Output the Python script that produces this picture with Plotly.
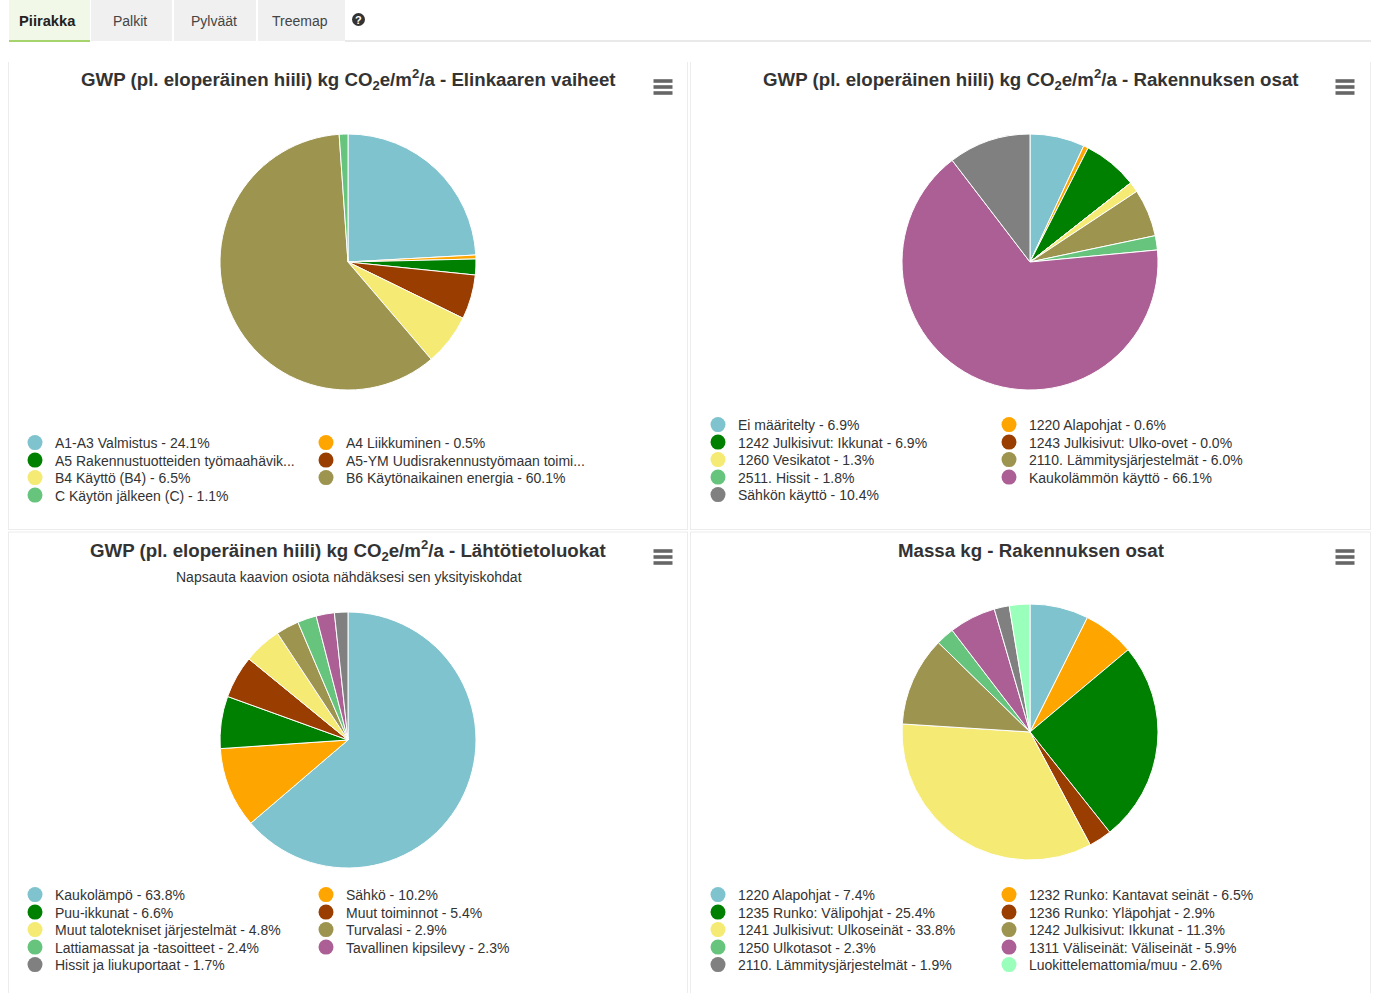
import plotly.graph_objects as go

W, H = 1376, 993
BLUE, ORANGE, GREEN, BROWN, YELLOW = "#7fc3ce", "#ffa500", "#008000", "#993d00", "#f5ea73"
OLIVE, MID, PURPLE, GRAY, MINT = "#9d9450", "#66c47c", "#ab5f95", "#808080", "#99ffbb"
PALETTE = [BLUE, ORANGE, GREEN, BROWN, YELLOW, OLIVE, MID, PURPLE, GRAY, MINT]

TITLE_BASE = "GWP (pl. eloperäinen hiili) kg CO<sub>2</sub>e/m<sup>2</sup>/a - "
title_a = "<b>" + TITLE_BASE + "Elinkaaren vaiheet</b>"
title_b = "<b>" + TITLE_BASE + "Rakennuksen osat</b>"
title_c = "<b>" + TITLE_BASE + "Lähtötietoluokat</b>"
title_d = "<b>Massa kg - Rakennuksen osat</b>"
subtitle_c = "Napsauta kaavion osiota nähdäksesi sen yksityiskohdat"

values_a = [24.1, 0.5, 2.0, 5.6, 6.5, 60.1, 1.1]
labels_a = ["A1-A3 Valmistus - 24.1%", "A4 Liikkuminen - 0.5%",
            "A5 Rakennustuotteiden työmaahävik...", "A5-YM Uudisrakennustyömaan toimi...",
            "B4 Käyttö (B4) - 6.5%", "B6 Käytönaikainen energia - 60.1%",
            "C Käytön jälkeen (C) - 1.1%"]
colors_a = [BLUE, ORANGE, GREEN, BROWN, YELLOW, OLIVE, MID]

values_b = [6.9, 0.6, 6.9, 0.0, 1.3, 6.0, 1.8, 66.1, 10.4]
labels_b = ["Ei määritelty - 6.9%", "1220 Alapohjat - 0.6%",
            "1242 Julkisivut: Ikkunat - 6.9%", "1243 Julkisivut: Ulko-ovet - 0.0%",
            "1260 Vesikatot - 1.3%", "2110. Lämmitysjärjestelmät - 6.0%",
            "2511. Hissit - 1.8%", "Kaukolämmön käyttö - 66.1%",
            "Sähkön käyttö - 10.4%"]
colors_b = [BLUE, ORANGE, GREEN, BROWN, YELLOW, OLIVE, MID, PURPLE, GRAY]

values_c = [63.8, 10.2, 6.6, 5.4, 4.8, 2.9, 2.4, 2.3, 1.7]
labels_c = ["Kaukolämpö - 63.8%", "Sähkö - 10.2%", "Puu-ikkunat - 6.6%",
            "Muut toiminnot - 5.4%", "Muut talotekniset järjestelmät - 4.8%",
            "Turvalasi - 2.9%", "Lattiamassat ja -tasoitteet - 2.4%",
            "Tavallinen kipsilevy - 2.3%", "Hissit ja liukuportaat - 1.7%"]
colors_c = [BLUE, ORANGE, GREEN, BROWN, YELLOW, OLIVE, MID, PURPLE, GRAY]

values_d = [7.4, 6.5, 25.4, 2.9, 33.8, 11.3, 2.3, 5.9, 1.9, 2.6]
labels_d = ["1220 Alapohjat - 7.4%", "1232 Runko: Kantavat seinät - 6.5%",
            "1235 Runko: Välipohjat - 25.4%", "1236 Runko: Yläpohjat - 2.9%",
            "1241 Julkisivut: Ulkoseinät - 33.8%", "1242 Julkisivut: Ikkunat - 11.3%",
            "1250 Ulkotasot - 2.3%", "1311 Väliseinät: Väliseinät - 5.9%",
            "2110. Lämmitysjärjestelmät - 1.9%", "Luokittelemattomia/muu - 2.6%"]
colors_d = PALETTE

tab_names = ["Piirakka", "Palkit", "Pylväät", "Treemap"]

FONT = "Liberation Sans, Arial, sans-serif"
TEXT = "#333333"

def px(x):
    return x / W

def py(y):
    return 1 - y / H

charts = [
    dict(v=values_a, l=labels_a, c=colors_a, cx=348, cy=262, r=128, lx=15, ly=443, tx=348, ty=80, t=title_a, mx=663, my=87),
    dict(v=values_b, l=labels_b, c=colors_b, cx=1030, cy=262, r=128, lx=698, ly=425, tx=1031, ty=80, t=title_b, mx=1345, my=87),
    dict(v=values_c, l=labels_c, c=colors_c, cx=348, cy=740, r=128, lx=15, ly=895, tx=348, ty=550, t=title_c, mx=663, my=557),
    dict(v=values_d, l=labels_d, c=colors_d, cx=1030, cy=732, r=128, lx=698, ly=895, tx=1031, ty=550, t=title_d, mx=1345, my=557),
]
COL_STEP = 291
ROW_STEP = 17.5

fig = go.Figure()
layout_legends = {}
annotations = []
shapes = []

def rect(x0, y0, x1, y1, fill, line=None):
    shapes.append(dict(type="rect", xref="paper", yref="paper", x0=px(x0), x1=px(x1),
                       y0=py(y0), y1=py(y1), fillcolor=fill, line=dict(width=0), layer="below"))

def hline(x0, x1, y, color, width=1):
    shapes.append(dict(type="line", xref="paper", yref="paper", x0=px(x0), x1=px(x1),
                       y0=py(y), y1=py(y), line=dict(color=color, width=width), layer="below"))

def vline(x, y0, y1, color, width=1):
    shapes.append(dict(type="line", xref="paper", yref="paper", x0=px(x), x1=px(x),
                       y0=py(y0), y1=py(y1), line=dict(color=color, width=width), layer="below"))

# tabs
tab_x = [(9, 90), (91, 172), (174, 256), (258, 345)]
for i, (name, (a, b)) in enumerate(zip(tab_names, tab_x)):
    rect(a, 0, b, 41, "#f2f8e8" if i == 0 else "#f0f0f0")
    annotations.append(dict(x=px((a + b) / 2 + (-2 if i == 0 else -1.5)), y=py(20.5), xref="paper", yref="paper",
                            text=f"<b>{name}</b>" if i == 0 else name, showarrow=False,
                            font=dict(family=FONT, size=14.7 if i == 0 else 14, color="#222222" if i == 0 else "#444444"),
                            xanchor="center", yanchor="middle"))
hline(9, 90, 41, "#a6d46c", 2)
hline(345, 1371, 41, "#e2e2e2", 1.5)
shapes.append(dict(type="circle", xref="paper", yref="paper", x0=px(352), x1=px(365), y0=py(13), y1=py(26),
                   fillcolor="#333333", line=dict(width=0)))
annotations.append(dict(x=px(358.5), y=py(19.5), xref="paper", yref="paper", text="<b>?</b>", showarrow=False,
                        font=dict(family=FONT, size=11, color="white"), xanchor="center", yanchor="middle"))

# panel borders
for x in (8.5, 687.5, 690.5, 1370.5):
    vline(x, 62, 529, "#ececec")
    vline(x, 532, 993, "#ececec")
for a, b in ((8, 688), (690, 1371)):
    hline(a, b, 529.5, "#ececec")
    hline(a, b, 532, "#ececec")

n = 0
for ch in charts:
    fig.add_trace(go.Pie(values=ch["v"], labels=ch["l"], sort=False, direction="clockwise", rotation=0,
                         marker=dict(colors=ch["c"], line=dict(color="white", width=1)),
                         textinfo="none", hoverinfo="label", showlegend=False,
                         domain=dict(x=[px(ch["cx"] - ch["r"]), px(ch["cx"] + ch["r"])],
                                     y=[py(ch["cy"] + ch["r"]), py(ch["cy"] - ch["r"])])))
    for i, (lab, col) in enumerate(zip(ch["l"], ch["c"])):
        n += 1
        key = f"legend{n}" if n > 1 else "legend"
        fig.add_trace(go.Scatter(x=[None], y=[None], mode="markers", name=lab, legend=key,
                                 marker=dict(symbol="circle", size=15, color=col), showlegend=True, hoverinfo="skip"))
        layout_legends[key] = dict(x=px(ch["lx"] + (i % 2) * COL_STEP), y=py(ch["ly"] + (i // 2) * ROW_STEP),
                                   xanchor="left", yanchor="middle", bgcolor="rgba(0,0,0,0)",
                                   itemwidth=30, font=dict(family=FONT, size=14, color=TEXT),
                                   itemclick=False, itemdoubleclick=False)
    annotations.append(dict(x=px(ch["tx"]), y=py(ch["ty"]), xref="paper", yref="paper", text=ch["t"], showarrow=False,
                            font=dict(family=FONT, size=18.7, color="#333333"), xanchor="center", yanchor="middle"))
    for dy in (-6, 0, 6):
        hline(ch["mx"] - 9.5, ch["mx"] + 9.5, ch["my"] + dy, "#666666", 3.6)

annotations.append(dict(x=px(349), y=py(577), xref="paper", yref="paper", text=subtitle_c, showarrow=False,
                        font=dict(family=FONT, size=14, color=TEXT), xanchor="center", yanchor="middle"))

fig.update_layout(width=W, height=H, margin=dict(l=0, r=0, t=0, b=0), paper_bgcolor="white", plot_bgcolor="white",
                  xaxis=dict(visible=False), yaxis=dict(visible=False), annotations=annotations, shapes=shapes,
                  **layout_legends)
fig.write_html("out.html", config=dict(displayModeBar=False),
               post_script="document.body.style.margin='0';document.body.style.overflow='hidden';")
